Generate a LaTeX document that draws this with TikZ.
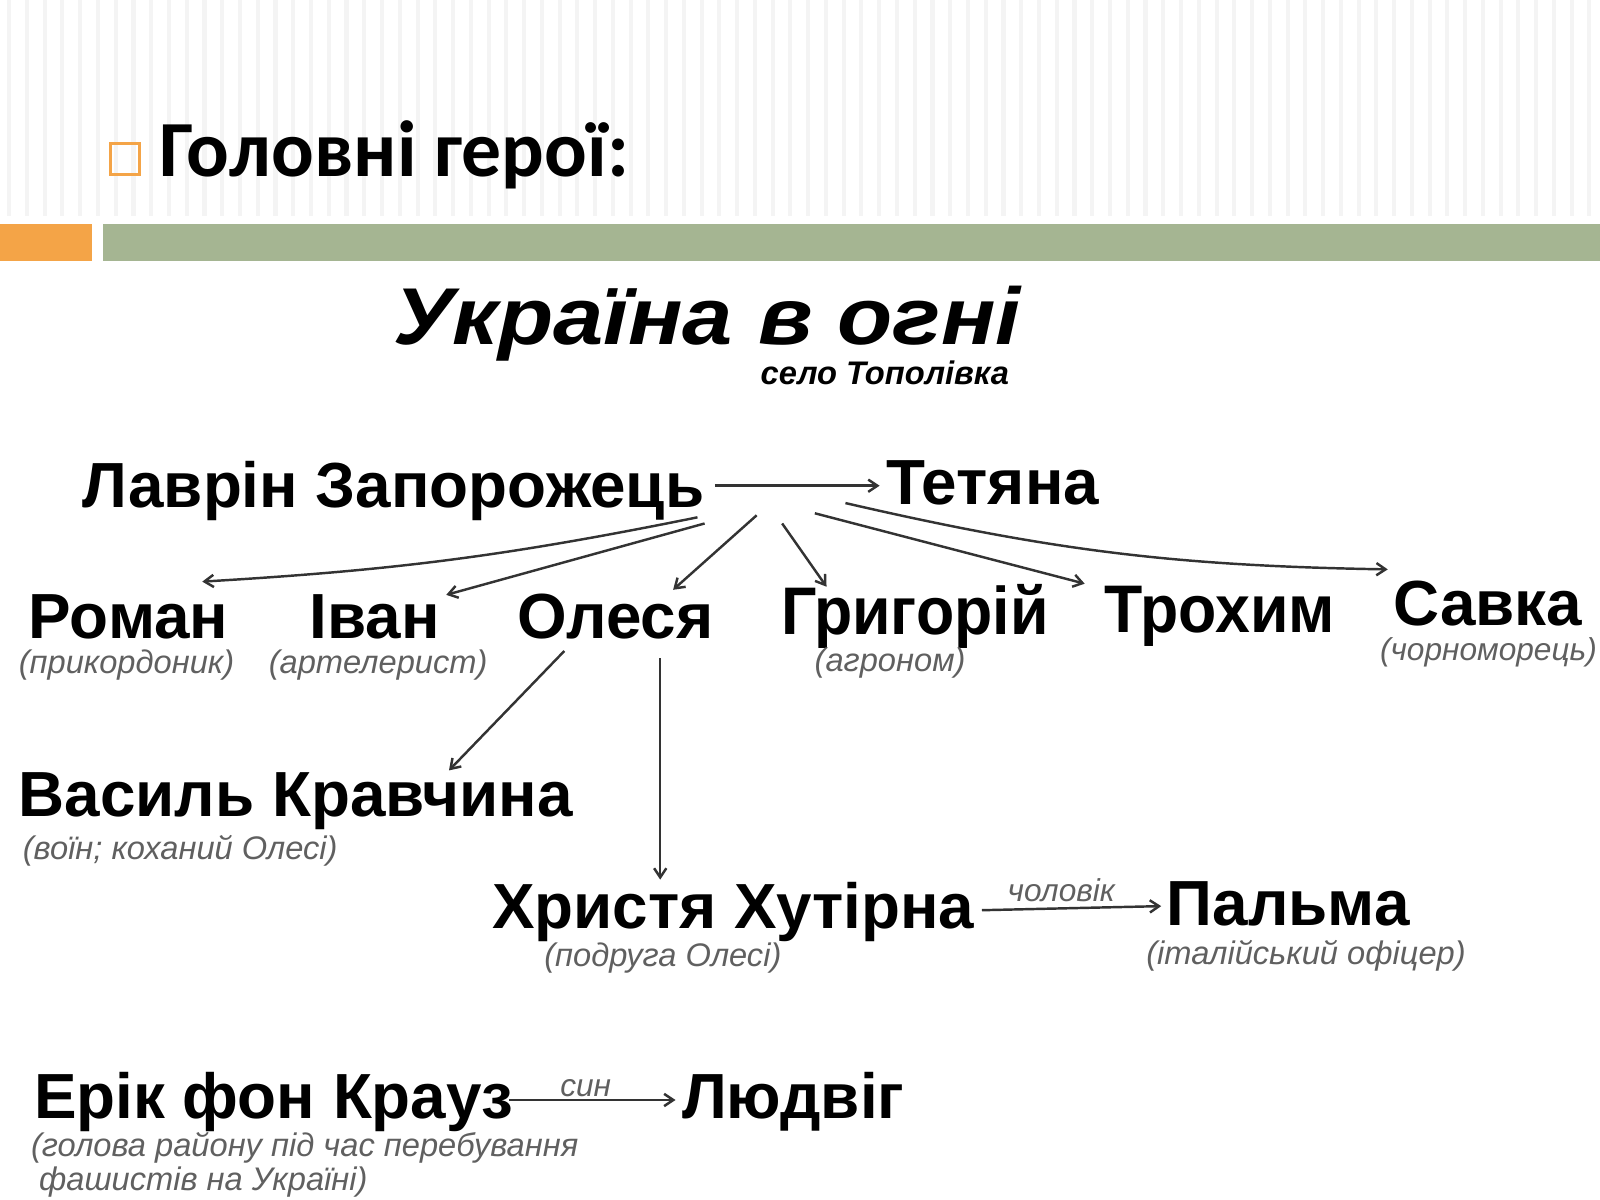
\documentclass[tikz,border=0pt]{standalone}
\usepackage{fontspec}
\usetikzlibrary{arrows.meta}
\setmainfont{Liberation Sans}
\newfontfamily\titlefont{Carlito}
\newfontfamily\narrowfont[FakeStretch=0.93]{Liberation Sans}
\newfontfamily\widefont[FakeStretch=1.12]{Liberation Sans}
\definecolor{slideOrange}{HTML}{F4A447}
\definecolor{slideGreen}{HTML}{A5B592}
\definecolor{noteGray}{HTML}{606060}
\definecolor{arrowGray}{HTML}{333333}
\begin{document}
\begin{tikzpicture}[x=0.5pt, y=-0.5pt,
		heroName/.style={anchor=base west, inner sep=0pt, font=\bfseries\fontsize{31.25}{36}\selectfont},
		narrowName/.style={anchor=base west, inner sep=0pt, font=\narrowfont\bfseries\fontsize{33}{38}\selectfont},
		noteText/.style={anchor=base west, inner sep=0pt, text=noteGray, font=\itshape\fontsize{16}{19}\selectfont},
		linkLabel/.style={anchor=base, inner sep=0pt, text=noteGray, font=\itshape\fontsize{15.5}{18}\selectfont},
		linkArrow/.style={-{Straight Barb[length=4.5pt,width=6pt]}, line width=1.2pt, draw=arrowGray}]
		\useasboundingbox (0,0) rectangle (1568,1176);

		% header
		\foreach \x in {9,26.4,...,1568} {
			\fill[gray!9] (\x-2,0) rectangle (\x+2,212);
		}
		\fill[slideOrange](0,220) rectangle (90,256);
		\fill[slideGreen](101,220) rectangle (1568,256);
		\draw[slideOrange, line width=1.5pt](108,141) rectangle (137,171);
		\node[anchor=base west, inner sep=0pt, font=\titlefont\bfseries\fontsize{39}{44}\selectfont](headTitle) at (156,173){Головні герої:};

		% title
		\node[anchor=base west, inner sep=0pt, font=\widefont\bfseries\itshape\fontsize{39.5}{44}\selectfont](bookTitle) at (385,338){Україна в огні};
		\node[anchor=base west, inner sep=0pt, font=\bfseries\itshape\fontsize{16}{18}\selectfont](villageNote) at (745,377){село Тополівка};

		% names
		\node[heroName](lavrin) at (80,497){Лаврін Запорожець};
		\node[heroName](tetiana) at (868,494){Тетяна};

		\node[heroName](roman) at (28,626){Роман};
		\node[noteText](romanNote) at (18,660){(прикордоник)};
		\node[heroName](ivan) at (303,626){Іван};
		\node[noteText](ivanNote) at (263,660){(артелерист)};
		\node[heroName](olesia) at (507,626){Олеся};
		\node[narrowName](hryhorii) at (765,622){Григорій};
		\node[noteText](hryhoriiNote) at (798,658){(агроном)};
		\node[narrowName](trokhym) at (1082,620){Трохим};
		\node[heroName](savka) at (1365,613){Савка};
		\node[noteText, font=\itshape\fontsize{15.5}{18}\selectfont](savkaNote) at (1352,647){(чорноморець)};

		\node[heroName](vasyl) at (18,800){Василь Кравчина};
		\node[noteText](vasylNote) at (22,842){(воїн; коханий Олесі)};

		\node[heroName](khrystia) at (482,910){Христя Хутірна};
		\node[noteText](khrystiaNote) at (533,947){(подруга Олесі)};
		\node[heroName](palma) at (1143,907){Пальма};
		\node[noteText](palmaNote) at (1123,945){(італійський офіцер)};

		\node[heroName](erik) at (33,1096){Ерік фон Крауз};
		\node[noteText](erikNote) at (30,1133){(голова району під час перебування};
		\node[noteText](erikNoteTwo) at (38,1167){фашистів на Україні)};
		\node[heroName](ludvig) at (668,1096){Людвіг};

		% draw wife edge
		\draw[linkArrow] ([shift={(10,-21)}]lavrin.base east) -- ([shift={(-6,-18)}]tetiana.base west);

		% draw children edges
		\draw[linkArrow] ([shift={(-7,10)}]lavrin.base east) to[bend left=4] ([shift={(-26,-56)}]roman.base east);
		\draw[linkArrow] ([shift={(0,16)}]lavrin.base east) -- ([shift={(6,-43)}]ivan.base east);
		\draw[linkArrow] ([shift={(51,8)}]lavrin.base east) -- ([shift={(-40,-48)}]olesia.base east);
		\draw[linkArrow] ([shift={(76,16)}]lavrin.base east) -- ([shift={(45,-47)}]hryhorii.base west);
		\draw[linkArrow] ([shift={(108,6)}]lavrin.base east) -- ([shift={(-19,-48)}]trokhym.base west);
		\draw[linkArrow] ([shift={(138,-4)}]lavrin.base east) to[bend right=6] ([shift={(-5,-55)}]savka.base west);

		% draw olesia edges
		\draw[linkArrow] ([shift={(46,12)}]olesia.base west) -- ([shift={(422,-45)}]vasyl.base west);
		\draw[linkArrow] ([shift={(140,19)}]olesia.base west) -- ([shift={(165,-48)}]khrystia.base west);

		% draw husband and son edges
		\draw[linkArrow] ([shift={(7,-18)}]khrystia.base east) -- ([shift={(-5,-19)}]palma.base west);
		\node[linkLabel](husbandLabel) at (1040,883){чоловік};
		\draw[linkArrow] ([shift={(-4,-18)}]erik.base east) -- ([shift={(-6,-18)}]ludvig.base west);
		\node[linkLabel](sonLabel) at (574,1075){син};

	\end{tikzpicture}
\end{document}
